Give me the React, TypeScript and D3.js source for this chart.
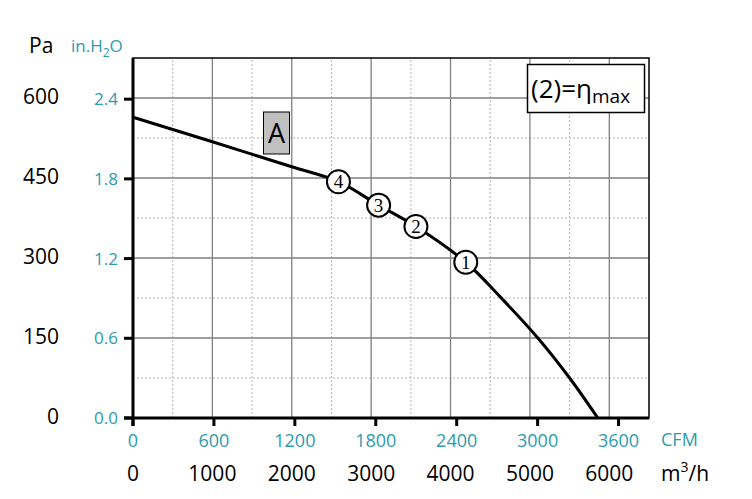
import * as d3 from 'd3'

// fan curve (flow in m3/h, pressure in Pa)
const flow = [0, 1000, 2000, 2588, 3094, 3564, 4192, 4620, 5100, 5500, 5855]
const pressure = [564, 518, 471, 443, 399, 359, 292, 228, 150, 75, 0]

// operating points on the curve
const pointLabels = ['4', '3', '2', '1']
const pointFlow = [2588, 3094, 3564, 4192]
const pointPressure = [443, 399, 359, 292]

const paTicks = [0, 150, 300, 450, 600]
const inTicks = [0.0, 0.6, 1.2, 1.8, 2.4]
const m3hTicks = [0, 1000, 2000, 3000, 4000, 5000, 6000]
const cfmTicks = [0, 600, 1200, 1800, 2400, 3000, 3600]

const PA_PER_IN = 249.089
const M3H_PER_CFM = 1.699

const teal = '#2c9bb0'
const font = "'Open Sans', sans-serif"

export default function App() {
    const x = d3.scaleLinear().domain([0, 6500]).range([133, 649])
    const y = d3.scaleLinear().domain([0, 675]).range([418, 58])

    const line = d3
        .line<number>()
        .x((d, i) => x(flow[i]))
        .y((d, i) => y(pressure[i]))
        .curve(d3.curveCatmullRom.alpha(0.5))

    const majorY = d3.range(150, 675, 150)
    const minorY = d3.range(75, 675, 150)
    const majorX = d3.range(1000, 6500, 1000)
    const minorX = d3.range(500, 6500, 1000)

    return (
        <svg width={752} height={499} style={{ position: 'absolute', left: 0, top: 0 }}>
            <rect x={0} y={0} width={752} height={499} fill="#fff" />

            {/* grid */}
            {minorX.map(v => (
                <line key={'mx' + v} x1={x(v)} x2={x(v)} y1={y(0)} y2={y(675)} stroke="#b4b4b4" strokeDasharray="2,2" />
            ))}
            {minorY.map(v => (
                <line key={'my' + v} x1={x(0)} x2={x(6500)} y1={y(v)} y2={y(v)} stroke="#b4b4b4" strokeDasharray="2,2" />
            ))}
            {majorX.map(v => (
                <line key={'Mx' + v} x1={x(v)} x2={x(v)} y1={y(0)} y2={y(675)} stroke="#808080" strokeWidth={1.3} />
            ))}
            {majorY.map(v => (
                <line key={'My' + v} x1={x(0)} x2={x(6500)} y1={y(v)} y2={y(v)} stroke="#808080" strokeWidth={1.3} />
            ))}

            {/* frame */}
            <rect x={x(0)} y={y(675)} width={x(6500) - x(0)} height={y(0) - y(675)} fill="none" stroke="#000" strokeWidth={1.5} />
            <line x1={x(0)} x2={x(0)} y1={y(675)} y2={y(0) + 8} stroke="#000" strokeWidth={3} />
            <line x1={x(0) - 9} x2={x(6500)} y1={y(0)} y2={y(0)} stroke="#000" strokeWidth={3} />

            {/* left ticks (in.H2O) */}
            {inTicks.map(v => (
                <line key={'ti' + v} x1={x(0) - 9} x2={x(0)} y1={y(v * PA_PER_IN)} y2={y(v * PA_PER_IN)} stroke="#000" strokeWidth={3} />
            ))}
            {/* bottom ticks (CFM) */}
            {cfmTicks.map(v => (
                <line key={'tc' + v} x1={x(v * M3H_PER_CFM)} x2={x(v * M3H_PER_CFM)} y1={y(0)} y2={y(0) + 8} stroke="#000" strokeWidth={3} />
            ))}

            {/* y labels */}
            {paTicks.map(v => (
                <text key={'pa' + v} x={59} y={y(v) + 6} textAnchor="end" fontFamily={font} fontSize={21} fill="#000">
                    {v}
                </text>
            ))}
            {inTicks.map(v => (
                <text key={'in' + v} x={118} y={y(v * PA_PER_IN) + 6} textAnchor="end" fontFamily={font} fontSize={17} fill={teal}>
                    {v.toFixed(1)}
                </text>
            ))}
            <text x={29} y={53} fontFamily={font} fontSize={21} fill="#000">Pa</text>
            <text x={71} y={52} fontFamily={font} fontSize={17} fill={teal}>
                in.H<tspan fontSize={12} dy={5}>2</tspan><tspan dy={-5}>O</tspan>
            </text>

            {/* x labels */}
            {cfmTicks.map(v => (
                <text key={'cfm' + v} x={x(v * M3H_PER_CFM)} y={447} textAnchor="middle" fontFamily={font} fontSize={18} fill={teal}>
                    {v}
                </text>
            ))}
            {m3hTicks.map(v => (
                <text key={'m3' + v} x={x(v)} y={481} textAnchor="middle" fontFamily={font} fontSize={21} fill="#000">
                    {v}
                </text>
            ))}
            <text x={661} y={446} fontFamily={font} fontSize={18} fill={teal}>CFM</text>
            <text x={661} y={481} fontFamily={font} fontSize={21} fill="#000">
                m<tspan fontSize={14} dy={-9}>3</tspan><tspan dy={9}>/h</tspan>
            </text>

            {/* curve */}
            <path d={line(flow) ?? ''} fill="none" stroke="#000" strokeWidth={3} />

            {pointLabels.map((t, i) => (
                <g key={'p' + t} transform={`translate(${x(pointFlow[i])},${y(pointPressure[i])})`}>
                    <circle r={11.5} fill="#fff" stroke="#000" strokeWidth={2} />
                    <text y={6.5} textAnchor="middle" fontFamily="'Liberation Serif', serif" fontSize={19} fill="#000">
                        {t}
                    </text>
                </g>
            ))}

            {/* curve label */}
            <rect x={263.5} y={112} width={26} height={42} fill="#c0c0c0" stroke="#000" strokeWidth={1} />
            <text x={276.5} y={143} textAnchor="middle" fontFamily={font} fontSize={27} fill="#000">A</text>

            {/* legend */}
            <rect x={527.5} y={64.5} width={117} height={48} fill="#fff" stroke="#000" strokeWidth={1.5} />
            <text x={531} y={98} fontFamily={font} fontSize={26} fill="#000">
                (2)=η<tspan fontSize={19} dy={5}>max</tspan>
            </text>
        </svg>
    )
}
